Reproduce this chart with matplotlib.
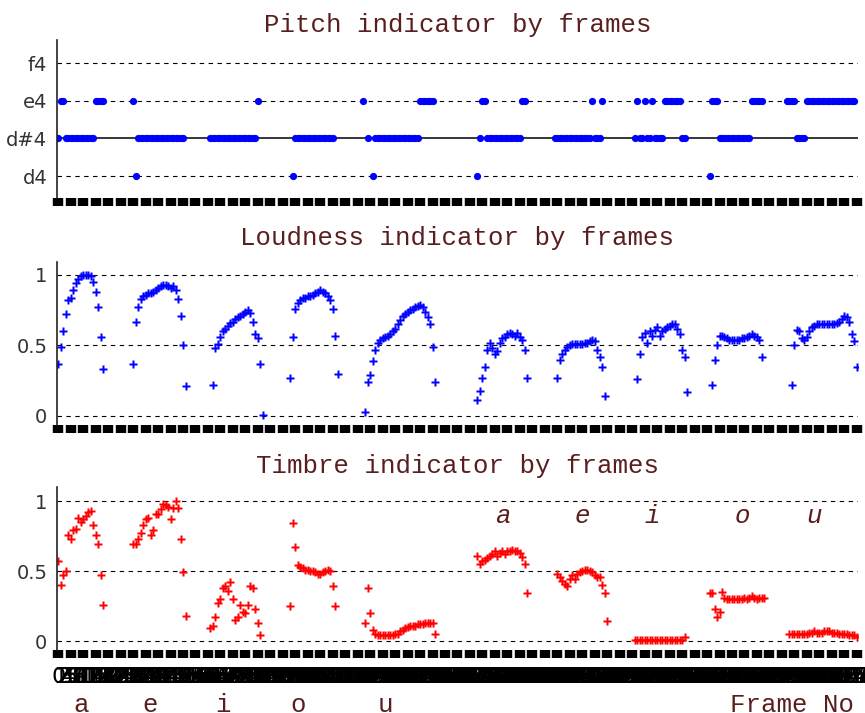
import matplotlib
matplotlib.use("Agg")
import matplotlib.pyplot as plt
import numpy as np

notes = ["d4", "d#4", "e4", "f4"]

pitch_runs = [
    (0, 0, "d#4"), (1, 2, "e4"), (3, 14, "d#4"), (15, 18, "e4"),
    (30, 30, "e4"), (31, 31, "d4"), (32, 50, "d#4"),
    (61, 79, "d#4"), (80, 80, "e4"),
    (94, 94, "d4"), (95, 110, "d#4"),
    (122, 122, "e4"), (124, 124, "d#4"), (126, 126, "d4"), (127, 144, "d#4"), (145, 150, "e4"),
    (168, 168, "d4"), (169, 169, "d#4"), (170, 171, "e4"), (172, 185, "d#4"), (186, 187, "e4"),
    (199, 213, "d#4"), (214, 214, "e4"), (215, 217, "d#4"), (218, 218, "e4"),
    (231, 231, "d#4"), (232, 232, "e4"), (233, 234, "d#4"), (235, 235, "e4"),
    (236, 237, "d#4"), (238, 238, "e4"), (239, 242, "d#4"), (243, 249, "e4"), (250, 251, "d#4"),
    (261, 261, "d4"), (262, 264, "e4"), (265, 277, "d#4"), (278, 282, "e4"),
    (292, 295, "e4"), (296, 299, "d#4"), (300, 319, "e4"),
]

# loudness: (first frame, values)
loud_segments = [
    (0, [0.37, 0.49, 0.60, 0.72, 0.82, 0.84, 0.89, 0.94, 0.97, 0.99, 1.0, 1.0, 1.0, 0.99,
         0.95, 0.88, 0.77, 0.56, 0.33]),
    (30, [0.37, 0.67, 0.77, 0.83, 0.85, 0.86, 0.87, 0.87, 0.88, 0.89, 0.91, 0.92, 0.93, 0.93,
          0.92, 0.91, 0.92, 0.89, 0.83, 0.71, 0.50, 0.21]),
    (62, [0.22, 0.48, 0.51, 0.56, 0.60, 0.62, 0.64, 0.66, 0.67, 0.69, 0.70, 0.71, 0.72, 0.74,
          0.75, 0.73, 0.67, 0.58, 0.55, 0.37, 0.01]),
    (93, [0.27, 0.56, 0.76, 0.80, 0.82, 0.84, 0.84, 0.85, 0.85, 0.86, 0.87, 0.88, 0.89, 0.88,
          0.87, 0.85, 0.82, 0.76, 0.57, 0.30]),
    (123, [0.03, 0.24, 0.29, 0.39, 0.47, 0.52, 0.54, 0.55, 0.56, 0.57, 0.58, 0.60, 0.62, 0.65,
           0.68, 0.71, 0.72, 0.74, 0.75, 0.76, 0.77, 0.78, 0.79, 0.77, 0.74, 0.70, 0.65, 0.49, 0.24]),
    (168, [0.11, 0.18, 0.27, 0.35, 0.47, 0.52, 0.48, 0.44, 0.46, 0.52, 0.55, 0.56, 0.58, 0.59,
           0.58, 0.57, 0.59, 0.56, 0.54, 0.47, 0.27]),
    (200, [0.27, 0.40, 0.44, 0.47, 0.49, 0.50, 0.51, 0.51, 0.51, 0.51, 0.51, 0.52, 0.52, 0.53,
           0.54, 0.53, 0.47, 0.42, 0.35, 0.14]),
    (232, [0.26, 0.44, 0.56, 0.59, 0.52, 0.60, 0.57, 0.61, 0.63, 0.57, 0.60, 0.62, 0.63, 0.64,
           0.65, 0.65, 0.62, 0.58, 0.47, 0.42, 0.17]),
    (262, [0.22, 0.40, 0.50, 0.57, 0.57, 0.56, 0.55, 0.54, 0.54, 0.54, 0.54, 0.54, 0.55, 0.55,
           0.56, 0.57, 0.58, 0.57, 0.56, 0.54, 0.42]),
    (294, [0.22, 0.50, 0.61, 0.60, 0.55, 0.54, 0.56, 0.60, 0.63, 0.64, 0.65, 0.65, 0.65, 0.65,
           0.65, 0.65, 0.65, 0.65, 0.66, 0.67, 0.69, 0.71, 0.70, 0.67, 0.58, 0.53, 0.35]),
]

# timbre: (first frame, values)
timbre_segments = [
    (0, [0.57, 0.40, 0.47, 0.50, 0.76, 0.73, 0.79, 0.80, 0.88, 0.85, 0.87, 0.89, 0.92, 0.93,
         0.83, 0.76, 0.69, 0.47, 0.26]),
    (30, [0.69, 0.69, 0.73, 0.77, 0.83, 0.87, 0.88, 0.76, 0.79, 0.91, 0.91, 0.94, 0.98, 0.97,
          0.96, 0.87, 0.95, 1.0, 0.95, 0.73, 0.49, 0.18]),
    (61, [0.09, 0.11, 0.17, 0.27, 0.30, 0.38, 0.39, 0.36, 0.42, 0.30, 0.15, 0.17, 0.26, 0.21,
          0.20, 0.26, 0.39, 0.38, 0.23, 0.13, 0.04]),
    (93, [0.25, 0.84, 0.67, 0.54, 0.53, 0.52, 0.51, 0.51, 0.50, 0.50, 0.49, 0.48, 0.48, 0.49,
          0.50, 0.51, 0.50, 0.39, 0.25]),
    (123, [0.13, 0.38, 0.20, 0.08, 0.05, 0.04, 0.04, 0.04, 0.04, 0.04, 0.04, 0.04, 0.05, 0.05,
           0.07, 0.08, 0.09, 0.10, 0.11, 0.11, 0.11, 0.12, 0.12, 0.12, 0.13, 0.13, 0.13, 0.13, 0.05]),
    (168, [0.61, 0.55, 0.57, 0.58, 0.59, 0.61, 0.62, 0.64, 0.61, 0.63, 0.64, 0.62, 0.64, 0.64,
           0.65, 0.64, 0.64, 0.63, 0.60, 0.55, 0.34]),
    (200, [0.48, 0.46, 0.43, 0.41, 0.39, 0.44, 0.47, 0.44, 0.48, 0.49, 0.50, 0.51, 0.51, 0.50,
           0.49, 0.47, 0.46, 0.46, 0.40, 0.34, 0.14]),
    (231, [0.01, 0.01, 0.01, 0.01, 0.01, 0.01, 0.01, 0.01, 0.01, 0.01, 0.01, 0.01, 0.01, 0.01,
           0.01, 0.01, 0.01, 0.01, 0.01, 0.01, 0.03]),
    (261, [0.34, 0.34, 0.23, 0.17, 0.21, 0.35, 0.31, 0.30, 0.30, 0.30, 0.30, 0.30, 0.30, 0.30,
           0.31, 0.30, 0.31, 0.32, 0.31, 0.30, 0.31, 0.31, 0.31]),
    (293, [0.05, 0.05, 0.05, 0.05, 0.05, 0.05, 0.05, 0.05, 0.06, 0.06, 0.07, 0.06, 0.06, 0.06,
           0.07, 0.07, 0.07, 0.06, 0.06, 0.06, 0.05, 0.05, 0.05, 0.05, 0.04, 0.04, 0.04, 0.03]),
]

n_frames = 320
vowels = ["a", "e", "i", "o", "u"]
vowel_frames = [9, 37, 66, 96, 131]          # labels under the frame axis
ref_vowel_frames = [178, 210, 238, 274, 303]  # italic labels in the timbre panel
ref_vowel_level = 0.89

title_color = "#5a1e1e"
mono = "Liberation Mono"


def expand(segments):
    xs, ys = [], []
    for start, vals in segments:
        xs += list(range(start, start + len(vals)))
        ys += vals
    return xs, ys


pitch_x, pitch_y = [], []
for first, last, note in pitch_runs:
    for f in range(first, last + 1):
        pitch_x.append(f)
        pitch_y.append(notes.index(note))

loud_x, loud_y = expand(loud_segments)
timb_x, timb_y = expand(timbre_segments)

fig = plt.figure(figsize=(8.65, 7.13), dpi=100)
W, H = 865.0, 713.0


def make_ax(top, bottom):
    return fig.add_axes([57 / W, (H - bottom) / H, 801 / W, (bottom - top) / H])


def setup(ax, title, pad):
    ax.set_xlim(-0.5, n_frames + 0.5)
    for s in ["top", "right", "bottom"]:
        ax.spines[s].set_visible(False)
    ax.spines["left"].set_linewidth(1.2)
    ax.spines["left"].set_color("#222222")
    ax.set_title(title, fontfamily=mono, fontsize=18.5, color=title_color, pad=pad)
    ax.tick_params(axis="y", length=0, pad=7, labelsize=14, labelcolor="#333333")
    ax.xaxis.remove_overlapping_locs = False
    ax.set_xticks(np.arange(0, n_frames + 1, 5), minor=True)
    ax.tick_params(axis="x", which="minor", length=6, width=7.5, direction="out", color="black")
    ax.tick_params(axis="x", which="major", length=0)


grid_style = dict(color="black", lw=0.8, ls=(0, (4, 4)), zorder=0)

# pitch
ax1 = make_ax(40, 198)
setup(ax1, "Pitch indicator by frames", 6)
ax1.set_ylim(-0.58, 3.61)
ax1.set_yticks(range(len(notes)))
ax1.set_yticklabels(notes)
for i, n in enumerate(notes):
    if n == "d#4":
        ax1.axhline(i, color="black", lw=1.1, zorder=0)
    else:
        ax1.axhline(i, **grid_style)
ax1.plot(pitch_x, pitch_y, ls="none", marker="o", ms=5.2, color="#0000ff", mec="none")
ax1.set_xticks([])

# loudness
ax2 = make_ax(262, 425)
setup(ax2, "Loudness indicator by frames", 12)
ax2.set_ylim(-0.064, 1.092)
ax2.set_yticks([0, 0.5, 1])
ax2.set_yticklabels(["0", "0.5", "1"])
for y in [0, 0.5, 1]:
    ax2.axhline(y, **grid_style)
ax2.plot(loud_x, loud_y, ls="none", marker="P", ms=5.5, color="#0000ff", mec="none")
ax2.set_xticks([])

# timbre
ax3 = make_ax(487, 650)
setup(ax3, "Timbre indicator by frames", 10)
ax3.set_ylim(-0.064, 1.1)
ax3.set_yticks([0, 0.5, 1])
ax3.set_yticklabels(["0", "0.5", "1"])
for y in [0, 0.5, 1]:
    ax3.axhline(y, **grid_style)
ax3.plot(timb_x, timb_y, ls="none", marker="P", ms=5.5, color="#ff0000", mec="none")
for v, f in zip(vowels, ref_vowel_frames):
    ax3.text(f, ref_vowel_level, v, fontfamily=mono, style="italic", fontsize=18.5,
             color=title_color, ha="center", va="center")

# every frame gets its number, they pile up into a black band like the original
frames = np.arange(0, n_frames + 1)
ax3.set_xticks(frames)
ax3.set_xticklabels([str(f) for f in frames], fontsize=16, color="black")
ax3.tick_params(axis="x", which="major", length=0, pad=12.5)

xt = ax3.get_xaxis_transform()
for v, f in zip(vowels, vowel_frames):
    ax3.text(f, -0.34, v, transform=xt, fontfamily=mono, fontsize=18.5,
             color=title_color, ha="center", va="center")
ax3.text(0.995, -0.34, "Frame No", transform=ax3.transAxes, fontfamily=mono, fontsize=18.5,
         color=title_color, ha="right", va="center")

fig.savefig("out.png", dpi=100)
